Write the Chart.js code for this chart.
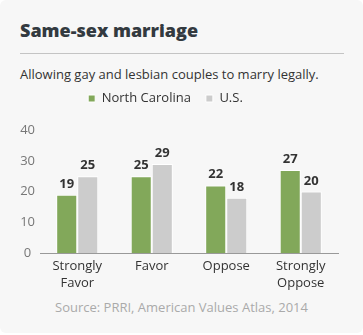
<!DOCTYPE html>
<html>
<head>
<meta charset="utf-8">
<script src="https://cdn.jsdelivr.net/npm/chart.js@4.4.1/dist/chart.umd.min.js"></script>
<style>
  html, body { margin: 0; padding: 0; background: #ffffff; }
  body { width: 363px; height: 335px; position: relative; overflow: hidden; font-family: "Open Sans", sans-serif; }
  #card { position: absolute; left: 0; top: 0; width: 363px; height: 333px; background: #f7f7f7; border-radius: 6px; }
  .txt { position: absolute; white-space: nowrap; line-height: normal; }
  #title { left: 20px; top: 17.5px; font-size: 18px; font-weight: 800; color: #333a40; }
  #rule { position: absolute; left: 20px; top: 53px; width: 324px; height: 1px; background: #c4c4c4; }
  #subtitle { left: 20px; top: 64.5px; font-size: 13px; color: #333; }
  #source { left: 0; width: 363px; text-align: center; top: 297.5px; font-size: 13px; color: #aaaaaa; }
  #chartwrap { position: absolute; left: 0; top: 77px; width: 363px; height: 220px; }
</style>
</head>
<body>
<div id="card"></div>
<div id="title" class="txt">Same-sex marriage</div>
<div id="rule"></div>
<div id="subtitle" class="txt">Allowing gay and lesbian couples to marry legally.</div>
<div id="chartwrap"><canvas id="c" width="363" height="220"></canvas></div>
<div id="source" class="txt">Source: PRRI, American Values Atlas, 2014</div>
<script>
const categories = [['Strongly', 'Favor'], 'Favor', 'Oppose', ['Strongly', 'Oppose']];
const seriesNames = ['North Carolina', 'U.S.'];
const northCarolina = [19, 25, 22, 27];
const unitedStates = [25, 29, 18, 20];
const yTickValues = [0, 10, 20, 30, 40];

const legendPlace = {
  id: 'legendPlace',
  beforeLayout(chart) {
    const lg = chart.legend;
    if (lg && !lg._patched) {
      const fit = lg.fit.bind(lg);
      lg.fit = function () { fit(); this.height = 53; };
      lg._patched = true;
    }
  },
  afterLayout(chart) {
    if (chart.legend) { chart.legend.left = 0; chart.legend.right = 331; }
  }
};

const valueLabels = {
  id: 'valueLabels',
  afterDatasetsDraw(chart) {
    const ctx = chart.ctx;
    ctx.save();
    ctx.font = 'bold 13px "Open Sans"';
    ctx.fillStyle = '#333333';
    ctx.textAlign = 'center';
    ctx.textBaseline = 'alphabetic';
    chart.data.datasets.forEach((ds, i) => {
      chart.getDatasetMeta(i).data.forEach((bar, j) => {
        ctx.fillText(String(ds.data[j]), bar.x, bar.y - 7);
      });
    });
    ctx.restore();
  }
};

new Chart(document.getElementById('c'), {
  type: 'bar',
  data: {
    labels: categories,
    datasets: [
      { label: seriesNames[0], data: northCarolina, backgroundColor: '#82a85a', borderColor: '#ffffff', borderWidth: 1 },
      { label: seriesNames[1], data: unitedStates, backgroundColor: '#cccccc', borderColor: '#ffffff', borderWidth: 1 }
    ]
  },
  options: {
    responsive: false,
    animation: false,
    categoryPercentage: 0.565,
    barPercentage: 1,
    layout: { padding: { left: 0, right: 25, top: 0, bottom: 0 } },
    plugins: {
      legend: {
        display: true,
        position: 'top',
        align: 'center',
        labels: {
          boxWidth: 7, boxHeight: 7, padding: 15, color: '#333333',
          font: { family: '"Open Sans"', size: 13 }
        }
      },
      tooltip: { enabled: false },
      title: { display: false }
    },
    scales: {
      x: {
        grid: { display: false, drawTicks: false },
        border: { display: true, color: '#999999', width: 1 },
        ticks: {
          color: '#333333', padding: 5, maxRotation: 0, autoSkip: false,
          font: { family: '"Open Sans"', size: 13, lineHeight: 1.3 }
        }
      },
      y: {
        min: 0, max: 40,
        afterBuildTicks(scale) { scale.ticks = yTickValues.map(v => ({ value: v })); },
        afterFit(scale) { scale.width = 40; },
        grid: { display: false, drawTicks: false },
        border: { display: false },
        ticks: {
          color: '#777777', padding: 5, crossAlign: 'center',
          font: { family: '"Open Sans"', size: 13 }
        }
      }
    }
  },
  plugins: [legendPlace, valueLabels]
});
</script>
</body>
</html>
